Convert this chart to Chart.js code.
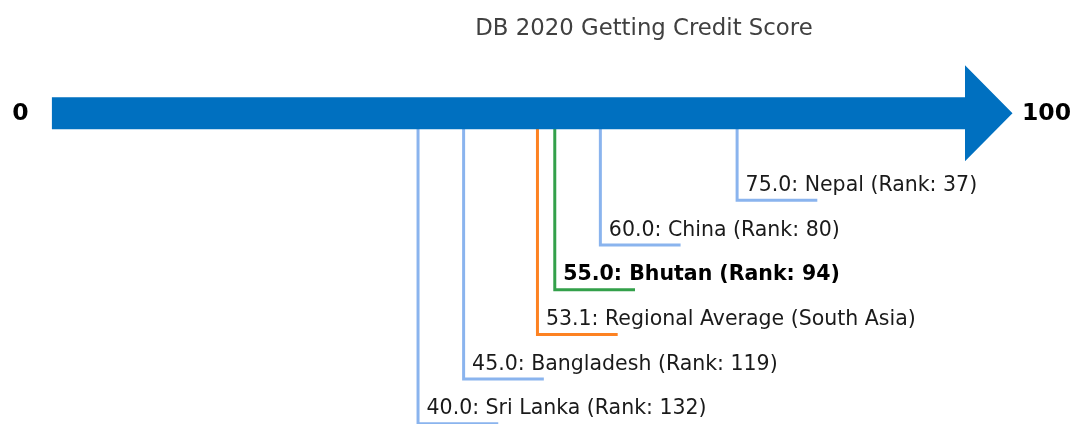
<!DOCTYPE html>
<html>
<head>
<meta charset="utf-8">
<script src="https://cdn.jsdelivr.net/npm/chart.js@4.4.1/dist/chart.umd.min.js"></script>
<style>
  html, body { margin: 0; padding: 0; background: #fff; }
  #wrap { width: 1072px; height: 424px; position: relative; }
</style>
</head>
<body>
<div id="wrap"><canvas id="scoreChart"></canvas></div>
<script>
// Données
const countries = ['Sri Lanka', 'Bangladesh', 'Regional Average (South Asia)', 'Bhutan', 'China', 'Nepal'];
const scores    = [40.0, 45.0, 53.1, 55.0, 60.0, 75.0];
const ranks     = [132, 119, null, 94, 80, 37];
const rows      = [6, 5, 4, 3, 2, 1];
const axisTicks = [0, 100];
const chartTitle = 'DB 2020 Getting Credit Score';

// Style
const ARROW_LEVEL = -0.95;
const SEG_LEN = 8.8;
const FONT = "'DejaVu Sans', 'Liberation Sans', sans-serif";
const colorFor = name => name === 'Bhutan' ? '#33a04a' : (name.startsWith('Regional') ? '#fd8222' : '#8ab4ee');
const labelFor = i => scores[i].toFixed(1) + ': ' + countries[i] + (ranks[i] != null ? ' (Rank: ' + ranks[i] + ')' : '');

const datasets = countries.map((name, i) => ({
  label: name,
  data: [
    { x: scores[i], y: ARROW_LEVEL },
    { x: scores[i], y: rows[i] },
    { x: scores[i] + SEG_LEN, y: rows[i] },
  ],
  showLine: true,
  borderColor: colorFor(name),
  borderWidth: 3,
  pointRadius: 0,
  tension: 0,
  borderJoinStyle: 'miter',
}));

const arrowPlugin = {
  id: 'scoreArrow',
  afterDatasetsDraw(chart) {
    const { ctx, scales: { x, y } } = chart;
    const x0 = x.getPixelForValue(axisTicks[0]);
    const x1 = x.getPixelForValue(axisTicks[1]);
    const yc = y.getPixelForValue(ARROW_LEVEL);
    ctx.save();

    // flèche
    ctx.fillStyle = '#0070c0';
    ctx.beginPath();
    ctx.moveTo(x0 - 1.5, yc - 16);
    ctx.lineTo(x1, yc - 16);
    ctx.lineTo(x1, yc - 48);
    ctx.lineTo(x1 + 47.5, yc);
    ctx.lineTo(x1, yc + 48);
    ctx.lineTo(x1, yc + 16);
    ctx.lineTo(x0 - 1.5, yc + 16);
    ctx.closePath();
    ctx.fill();

    // bornes 0 / 100
    ctx.fillStyle = '#000';
    ctx.font = 'bold 23.5px ' + FONT;
    ctx.textBaseline = 'middle';
    ctx.textAlign = 'center';
    ctx.fillText(String(axisTicks[0]), x0 - 33, yc + 1);
    ctx.textAlign = 'left';
    ctx.fillText(String(axisTicks[1]), x1 + 57, yc + 1);

    // étiquettes
    ctx.textBaseline = 'alphabetic';
    countries.forEach((name, i) => {
      const bold = name === 'Bhutan';
      ctx.font = (bold ? 'bold ' : '') + '20.5px ' + FONT;
      ctx.fillStyle = bold ? '#000' : '#1a1a1a';
      ctx.fillText(labelFor(i), x.getPixelForValue(scores[i]) + 8.5, y.getPixelForValue(rows[i]) - 9.5);
    });

    // titre
    ctx.font = '22.8px ' + FONT;
    ctx.fillStyle = '#404040';
    ctx.textAlign = 'center';
    ctx.textBaseline = 'middle';
    ctx.fillText(chartTitle, 644, 29);
    ctx.restore();
  }
};

new Chart(document.getElementById('scoreChart'), {
  type: 'scatter',
  data: { datasets },
  options: {
    responsive: true,
    maintainAspectRatio: false,
    animation: false,
    layout: { padding: { left: 53.4, right: 107, top: 0, bottom: 0 }, autoPadding: false },
    plugins: { legend: { display: false }, tooltip: { enabled: false }, title: { display: false } },
    scales: {
      x: { type: 'linear', min: axisTicks[0], max: axisTicks[1], display: false },
      y: { type: 'linear', min: -3.484, max: 6.005, reverse: true, display: false }
    }
  },
  plugins: [arrowPlugin]
});
</script>
</body>
</html>
